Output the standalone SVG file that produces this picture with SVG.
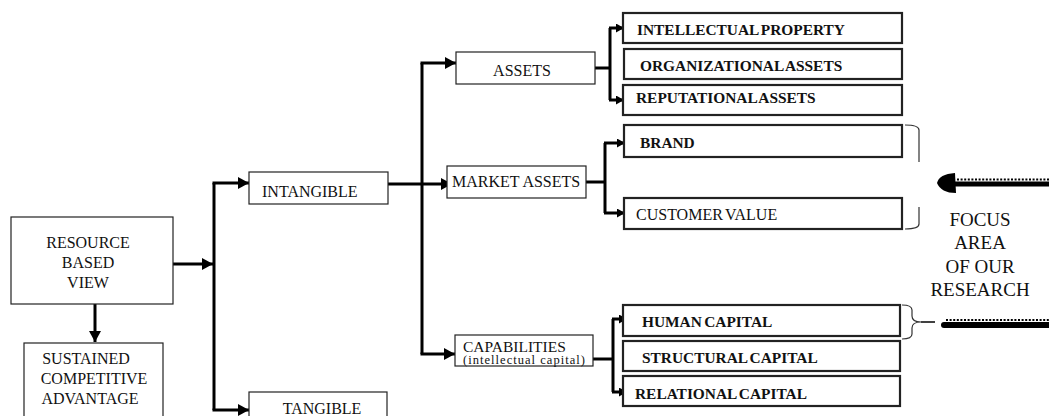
<svg xmlns="http://www.w3.org/2000/svg" width="1049" height="416" viewBox="0 0 1049 416">
<style>
.box{fill:#fff;stroke:#222;stroke-width:1.2}
.rbox{fill:#fff;stroke:#222;stroke-width:2.2}
.t{font-family:"Liberation Serif","Times New Roman",serif;font-size:16px;fill:#111}
.b{font-family:"Liberation Serif","Times New Roman",serif;font-size:15.4px;font-weight:bold;fill:#111;word-spacing:-1.5px}
.c{text-anchor:middle}
.f{font-size:19px}
.ln{fill:none;stroke:#000;stroke-width:3}
.br{fill:none;stroke:#333;stroke-width:1.2}
</style>
<defs>
<marker id="ab" markerUnits="userSpaceOnUse" markerWidth="11" markerHeight="12" refX="11" refY="6" orient="auto"><path d="M0,0 L11,6 L0,12 z" fill="#000"/></marker>
<marker id="as" markerUnits="userSpaceOnUse" markerWidth="8" markerHeight="9" refX="8" refY="4.5" orient="auto"><path d="M0,0 L8,4.5 L0,9 z" fill="#000"/></marker>
</defs>
<rect width="1049" height="416" fill="#fff"/>
<g id="connectors">
<path class="ln" d="M168,264 H213" marker-end="url(#ab)"/>
<path class="ln" d="M214,183 V410"/>
<path class="ln" d="M212.5,183 H249" marker-end="url(#ab)"/>
<path class="ln" d="M212.5,410 H249" marker-end="url(#ab)"/>
<path class="ln" d="M95,304 V342" marker-end="url(#ab)"/>
<path class="ln" d="M388,184 H452" marker-end="url(#ab)"/>
<path class="ln" d="M422,63 V354"/>
<path class="ln" d="M420.5,63 H456" marker-end="url(#ab)"/>
<path class="ln" d="M420.5,354 H455" marker-end="url(#ab)"/>
<path class="ln" d="M595,68 H610"/>
<path class="ln" d="M610,28 V100"/>
<path class="ln" d="M609,28 H624" marker-end="url(#as)"/>
<path class="ln" d="M609,100 H624" marker-end="url(#as)"/>
<path class="ln" d="M586,182 H605"/>
<path class="ln" d="M605,143 V213"/>
<path class="ln" d="M604,143 H625" marker-end="url(#as)"/>
<path class="ln" d="M604,213 H625" marker-end="url(#as)"/>
<path class="ln" d="M593,359 H613"/>
<path class="ln" d="M613,319 V392"/>
<path class="ln" d="M612,319 H627" marker-end="url(#as)"/>
<path class="ln" d="M612,392 H627" marker-end="url(#as)"/>
<path class="br" d="M905,125 Q919,125 919,130 V162"/>
<path class="br" d="M919,207 V224 Q919,229 905,229"/>
<path class="br" d="M902,305 Q912,305 912,310 V316 Q912,322 921,322 Q912,322 912,328 V334 Q912,339 902,339"/>
<path d="M921,322 H935" fill="none" stroke="#111" stroke-width="1.6"/>
<path d="M953,184 H1049" stroke="#000" stroke-width="5" fill="none"/>
<path d="M957,179.5 H1049" stroke="#000" stroke-width="2" stroke-dasharray="2 1.6" fill="none"/>
<path d="M937,183 Q939,174 955,173 L956,193 Q941,193 937,183 z" fill="#000"/>
<path d="M944,325 H1049" stroke="#000" stroke-width="6" stroke-linecap="round" fill="none"/>
<path d="M946,320 H1049" stroke="#000" stroke-width="2" stroke-dasharray="2 1.6" fill="none"/>
</g>
<g id="rbv"><rect class="box" x="11" y="217" width="162" height="87"/>
<text class="t c" x="88" y="248">RESOURCE</text><text class="t c" x="88" y="268">BASED</text><text class="t c" x="88" y="288">VIEW</text></g>
<g id="sca"><rect class="box" x="24" y="343" width="139" height="74"/>
<text class="t c" x="86" y="364">SUSTAINED</text><text class="t c" x="94" y="384">COMPETITIVE</text><text class="t c" x="90" y="404">ADVANTAGE</text></g>
<g id="intangible"><rect class="box" x="249" y="172" width="139" height="32"/><text class="t" x="262" y="197">INTANGIBLE</text></g>
<g id="tangible"><rect class="box" x="249" y="392" width="138" height="30"/><text class="t c" x="322" y="414">TANGIBLE</text></g>
<g id="assets"><rect class="box" x="456" y="52" width="139" height="32"/><text class="t c" x="522" y="76">ASSETS</text></g>
<g id="market"><rect class="box" x="447" y="166" width="139" height="32"/><text class="t" x="452" y="187">MARKET ASSETS</text></g>
<g id="capabilities"><rect class="box" x="455" y="335" width="138" height="31"/><text class="t" x="463" y="352" style="font-size:15.5px">CAPABILITIES</text>
<text class="t" x="463" y="364" style="font-size:12.5px" textLength="122" lengthAdjust="spacing">(intellectual capital)</text></g>
<g id="ip"><rect class="rbox" x="623" y="13" width="279" height="30"/><text class="b" x="637" y="35">INTELLECTUAL PROPERTY</text></g>
<g id="org"><rect class="rbox" x="624" y="49" width="278" height="30"/><text class="b" x="640" y="71">ORGANIZATIONAL ASSETS</text></g>
<g id="rep"><rect class="rbox" x="623" y="85" width="279" height="30"/><text class="b" x="636" y="103">REPUTATIONAL ASSETS</text></g>
<g id="brand"><rect class="rbox" x="624" y="125" width="278" height="32"/><text class="b" x="640" y="148">BRAND</text></g>
<g id="cv"><rect class="rbox" x="624" y="198" width="278" height="31"/><text class="t" x="636" y="220" style="word-spacing:-1.5px">CUSTOMER VALUE</text></g>
<g id="human"><rect class="rbox" x="623" y="305" width="277" height="31"/><text class="b" x="642" y="327">HUMAN CAPITAL</text></g>
<g id="structural"><rect class="rbox" x="623" y="341" width="277" height="30"/><text class="b" x="642" y="363">STRUCTURAL CAPITAL</text></g>
<g id="relational"><rect class="rbox" x="623" y="376" width="277" height="30"/><text class="b" x="635" y="399">RELATIONAL CAPITAL</text></g>
<g id="focus"><text class="t c f" x="980" y="226">FOCUS</text><text class="t c f" x="980" y="249">AREA</text><text class="t c f" x="980" y="273">OF OUR</text><text class="t c f" x="980" y="296">RESEARCH</text></g>
</svg>
